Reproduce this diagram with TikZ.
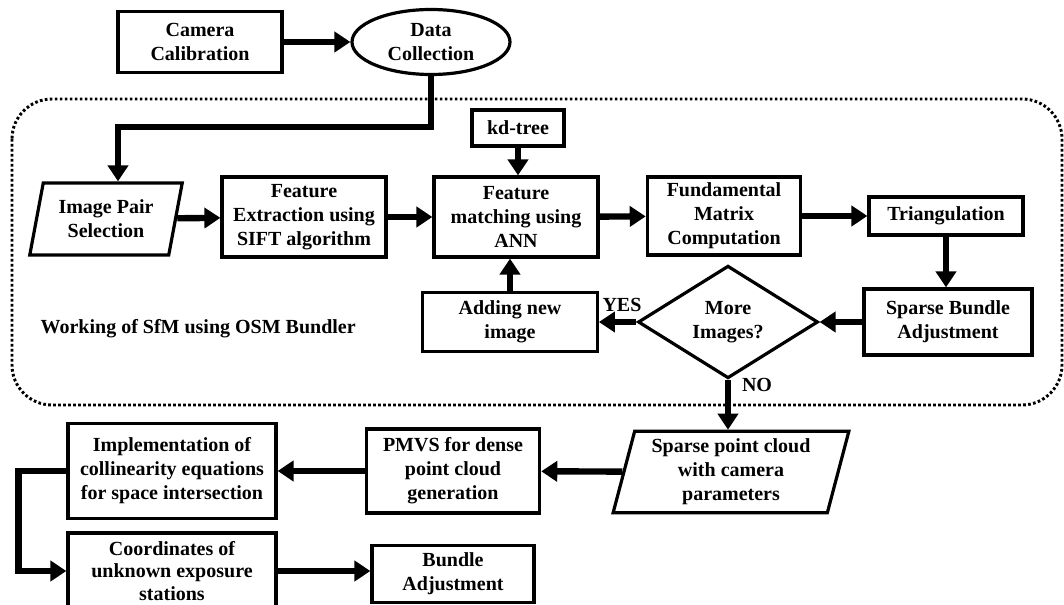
\documentclass[tikz,border=0pt]{standalone}
\usepackage{fontspec}
\setmainfont{Liberation Serif}
\usetikzlibrary{arrows.meta, shapes.geometric, calc}
\definecolor{cink}{HTML}{000000}
\tikzset{
  every picture/.style={font=\bfseries\fontsize{15}{18}\selectfont},
  box/.style={draw=cink, line width=2.4pt, align=center, inner sep=2pt},
  oval/.style={ellipse, draw=cink, line width=2.4pt, align=center, inner sep=0pt},
  slant/.style={trapezium, trapezium left angle=75, trapezium right angle=105, trapezium stretches=true, draw=cink, line width=2.4pt, align=center, inner sep=0pt},
  decide/.style={diamond, draw=cink, line width=2.4pt, align=center, inner sep=0pt},
  arrow/.style={-{Triangle[length=12pt, width=15pt]}, draw=cink, line width=4.8pt},
  frame/.style={draw=cink, line width=2.2pt, dash pattern=on 2pt off 1.75pt, rounded corners=30pt},
  note/.style={font=\bfseries\fontsize{15}{18}\selectfont, anchor=west},
}
\begin{document}
\begin{tikzpicture}[x=0.75pt, y=-0.75pt]
  \useasboundingbox (0,0) rectangle (1064,605);
  % top row: input
  \node[box, minimum width=123pt, minimum height=45.75pt] (camcal) at (200,42) {Camera\\Calibration};
  \node[oval, minimum width=118.5pt, minimum height=48.75pt] (datacol) at (431,42) {Data\\Collection};
  \draw[arrow] (camcal) -- (datacol);
  % SfM frame
  \draw[frame] (12,99) rectangle (1062,405);
  \node[note] (sfmlabel) at (36,329) {Working of SfM using OSM Bundler};
  \node[box, minimum width=69pt, minimum height=27pt] (kdtree) at (518,128) {kd-tree};
  \node[slant, minimum width=115pt, minimum height=54pt] (imgpair) at (106,219) {Image Pair\\Selection};
  \node[box, minimum width=123pt, minimum height=60pt] (featext) at (304,217) {Feature\\Extraction using\\SIFT algorithm};
  \node[box, minimum width=123pt, minimum height=60pt] (featmatch) at (516,217) {Feature\\matching using\\ANN};
  \node[box, minimum width=115pt, minimum height=58.5pt] (fundmat) at (724,216) {Fundamental\\Matrix\\Computation};
  \node[box, minimum width=115.5pt, minimum height=28.5pt] (triang) at (946,216) {Triangulation};
  \node[box, minimum width=126pt, minimum height=49.5pt] (sba) at (948,322) {Sparse Bundle\\Adjustment};
  \node[decide, minimum width=135pt, minimum height=77pt] (moreimg) at (728,322) {More\\Images?};
  \node[box, minimum width=131pt, minimum height=44pt] (addimg) at (510,322) {Adding new\\image};
  \node (yes) at (622,305) {YES};
  \node (no) at (757,385) {NO};
  \coordinate (split) at (118,127);
  \draw[arrow] (datacol.south) |- (split) -- (split |- imgpair.north);
  \draw[arrow] (kdtree) -- (kdtree.south |- featmatch.north);
  \draw[arrow] (imgpair) -- (featext);
  \draw[arrow] (featext) -- (featmatch);
  \draw[arrow] (featmatch) -- (fundmat);
  \draw[arrow] (fundmat) -- (triang);
  \draw[arrow] (triang) -- (triang.south |- sba.north);
  \draw[arrow] (sba) -- (moreimg);
  \draw[arrow] (moreimg) -- (addimg);
  \draw[arrow] (addimg.north) -- (addimg.north |- featmatch.south);
  % bottom rows: dense cloud and adjustment
  \node[slant, minimum width=177pt, minimum height=61pt] (spc) at (731,472) {Sparse point cloud\\with camera\\parameters};
  \node[box, minimum width=156pt, minimum height=57pt, font=\bfseries\fontsize{15}{17}\selectfont] (coords) at (172,571) {Coordinates of\\unknown exposure\\stations};
  \node[box, minimum width=130pt, minimum height=63pt] (pmvs) at (453,471) {PMVS for dense\\point cloud\\generation};
  \node[box, minimum width=156pt, minimum height=71pt] (impl) at (172,471) {Implementation of\\collinearity equations\\for space intersection};
  \node[box, minimum width=121.5pt, minimum height=43pt] (bundle) at (453,574) {Bundle\\Adjustment};
  \draw[arrow] (moreimg.south) -- (moreimg.south |- spc.north);
  \draw[arrow] (spc) -- (pmvs);
  \draw[arrow] (pmvs) -- (impl);
  \draw[arrow] (impl.west) -- ++(-48,0) |- (coords.west);
  \draw[arrow] (coords) -- (coords -| bundle.west);
\end{tikzpicture}
\end{document}
